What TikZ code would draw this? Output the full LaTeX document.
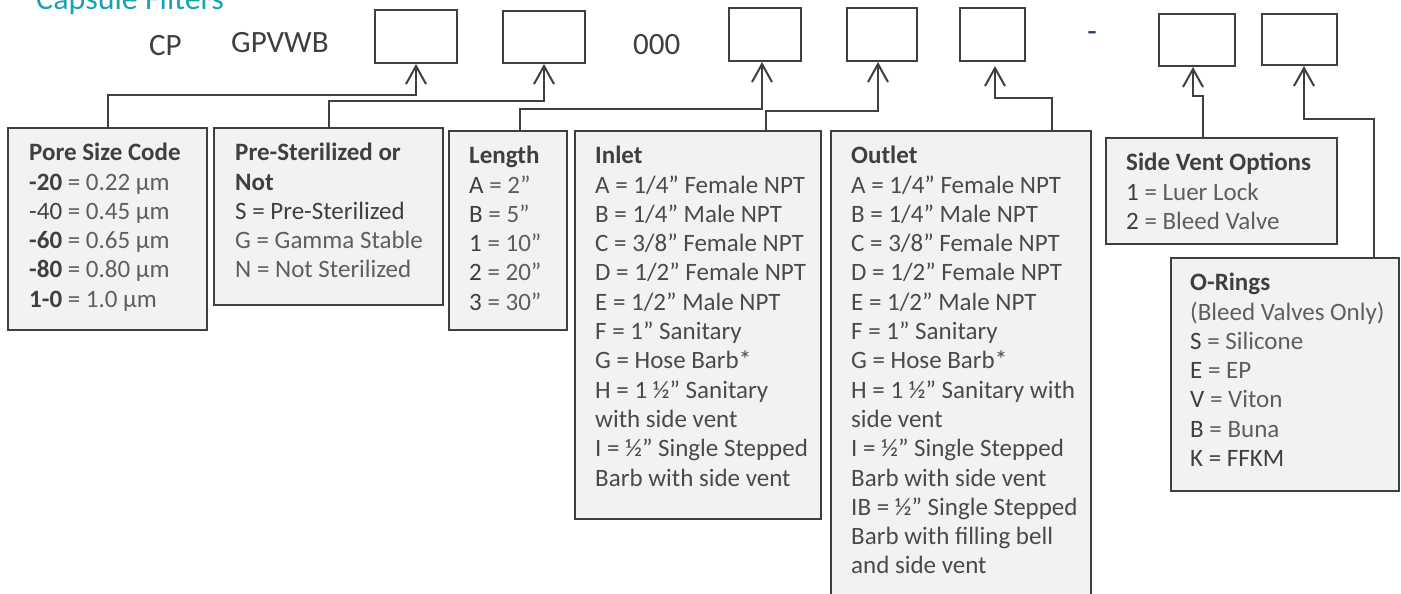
\documentclass[tikz,border=0pt]{standalone}
\usepackage{fontspec}
\setmainfont{Carlito}
\usepackage{tikz}
\usetikzlibrary{arrows.meta,positioning,calc}
\usepackage{xcolor}
\definecolor{inkdark}{HTML}{3F3F3F}
\definecolor{inkmid}{HTML}{4A4A4A}
\definecolor{inklight}{HTML}{5E5E5E}
\definecolor{cardfill}{HTML}{F2F2F2}
\definecolor{titleteal}{HTML}{1AA3B5}
\definecolor{dashnavy}{HTML}{1F3864}
\newcommand{\cd}[1]{\textcolor{inkdark}{#1}}

\begin{document}
\begin{tikzpicture}[
    x=1pt, y=-1pt,
    >={Straight Barb[length=18pt,width=20pt]},
    % empty code slots along the top row
    slot/.style={draw=inkdark, line width=2pt, inner sep=0pt, anchor=north west},
    % grey option cards, text is set separately inside them
    card/.style={draw=inkdark, fill=cardfill, line width=2pt, inner sep=0pt, anchor=north west},
    cardtext/.style={anchor=north west, inner sep=0pt, align=left, text=inklight,
                     font=\fontsize{25}{29.3}\selectfont,
                     execute at begin node={\rule{0pt}{20pt}}},
    code/.style={anchor=base west, inner sep=0pt, text=inkdark, font=\fontsize{31}{37}\selectfont},
    link/.style={->, line width=2pt, draw=inkdark},
]
\useasboundingbox (0,0) rectangle (1401,594);
\clip (0,0) rectangle (1401,594);

%================= header and part number =================%
\node[code, text=titleteal, font=\fontsize{32}{38}\selectfont] (title) at (36,10) {Capsule Filters};
\node[code] (cp)    at (149,56) {CP};
\node[code] (gpvwb) at (231,53) {GPVWB};
\node[code] (zeros) at (633,55) {000};
\node[code, anchor=base, text=dashnavy] (dash) at (1092,42) {-};

\node[slot, minimum width=82pt, minimum height=53pt] (slotpore)   at (374,9)  {};
\node[slot, minimum width=82pt, minimum height=52pt] (slotsteril) at (502,10) {};
\node[slot, minimum width=72pt, minimum height=53pt] (slotlen)    at (728,7)  {};
\node[slot, minimum width=70pt, minimum height=53pt] (slotin)     at (846,7)  {};
\node[slot, minimum width=65pt, minimum height=53pt] (slotout)    at (959,7)  {};
\node[slot, minimum width=76pt, minimum height=52pt] (slotvent)   at (1158,13) {};
\node[slot, minimum width=75pt, minimum height=51pt] (slotoring)  at (1261,13) {};

%================= option cards =================%
\node[card, minimum width=199pt, minimum height=202pt] (poresize) at (7,127) {};
\node[cardtext] (poretxt) at ([shift={(22,16)}]poresize.north west)
    {\cd{\textbf{Pore Size Code}}\\
     \cd{\textbf{-20}} = 0.22 µm\\
     \cd{-40} = 0.45 µm\\
     \cd{\textbf{-60}} = 0.65 µm\\
     \cd{\textbf{-80}} = 0.80 µm\\
     \cd{\textbf{1-0}} = 1.0 µm};

\node[card, minimum width=229pt, minimum height=177pt] (steril) at (213,127) {};
\node[cardtext] (steriltxt) at ([shift={(22,16)}]steril.north west)
    {\cd{\textbf{Pre-Sterilized or}}\\
     \cd{\textbf{Not}}\\
     \cd{S = Pre-Sterilized}\\
     G = Gamma Stable\\
     N = Not Sterilized};

\node[card, minimum width=118pt, minimum height=199pt] (length) at (448,130) {};
\node[cardtext] (lengthtxt) at ([shift={(21,16)}]length.north west)
    {\cd{\textbf{Length}}\\
     \cd{A} = 2”\\
     \cd{B} = 5”\\
     \cd{1} = 10”\\
     \cd{2} = 20”\\
     \cd{3} = 30”};

\node[card, minimum width=246pt, minimum height=388pt] (inlet) at (574,130) {};
\node[cardtext, text=inkmid] (inlettxt) at ([shift={(21,16)}]inlet.north west)
    {\cd{\textbf{Inlet}}\\
     A = 1/4” Female NPT\\
     B = 1/4” Male NPT\\
     C = 3/8” Female NPT\\
     D = 1/2” Female NPT\\
     E = 1/2” Male NPT\\
     F = 1” Sanitary\\
     G = Hose Barb*\\
     H = 1 ½” Sanitary\\
     with side vent\\
     I = ½” Single Stepped\\
     Barb with side vent};

\node[card, minimum width=260pt, minimum height=490pt] (outlet) at (830,130) {};
\node[cardtext, text=inkmid] (outlettxt) at ([shift={(21,16)}]outlet.north west)
    {\cd{\textbf{Outlet}}\\
     A = 1/4” Female NPT\\
     B = 1/4” Male NPT\\
     C = 3/8” Female NPT\\
     D = 1/2” Female NPT\\
     E = 1/2” Male NPT\\
     F = 1” Sanitary\\
     G = Hose Barb*\\
     H = 1 ½” Sanitary with\\
     side vent\\
     I = ½” Single Stepped\\
     Barb with side vent\\
     IB = ½” Single Stepped\\
     Barb with filling bell\\
     and side vent};

\node[card, minimum width=231pt, minimum height=106pt] (sidevent) at (1105,137) {};
\node[cardtext] (sideventtxt) at ([shift={(21,16)}]sidevent.north west)
    {\cd{\textbf{Side Vent Options}}\\
     \cd{1} = Luer Lock\\
     \cd{2} = Bleed Valve};

\node[card, minimum width=228pt, minimum height=233pt] (orings) at (1170,257) {};
\node[cardtext] (oringstxt) at ([shift={(20,16)}]orings.north west)
    {\cd{\textbf{O-Rings}}\\
     (Bleed Valves Only)\\
     \cd{S} = Silicone\\
     \cd{E} = EP\\
     \cd{V} = Viton\\
     \cd{B} = Buna\\
     \cd{K = FFKM}};

%================= connectors, card -> slot =================%
\draw[link] (poresize.north) -- ++(0,-32) -| (slotpore.south);
\draw[link] (steril.north) -- ++(0,-26) -| (slotsteril.south);
\draw[link] ([xshift=12pt]length.north) -- ++(0,-21) -| ([xshift=-3pt]slotlen.south);
\draw[link] ([xshift=68pt]inlet.north) -- ++(0,-19) -| ([xshift=-4pt]slotin.south);
\draw[link] ([xshift=91pt]outlet.north) -- ++(0,-32) -| ([xshift=2.5pt,yshift=-4pt]slotout.south);
\draw[link] ([xshift=-19pt]sidevent.north) -- ++(0,-41) -| ([xshift=-4pt]slotvent.south);
\draw[link] ([xshift=89pt]orings.north) -- ++(0,-138) -| ([xshift=4.5pt]slotoring.south);

\end{tikzpicture}
\end{document}
